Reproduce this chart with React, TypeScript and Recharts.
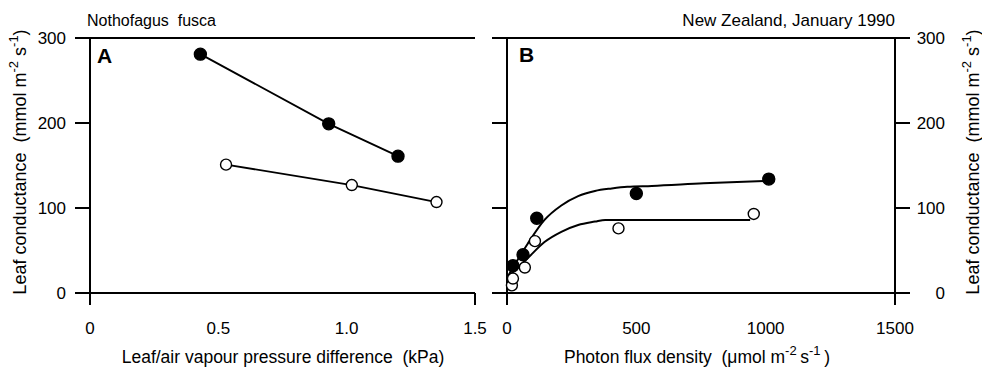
import React from 'react';
import { ComposedChart, Line, Scatter, XAxis, YAxis } from 'recharts';

// panel A: conductance vs leaf/air vapour pressure difference
const vpdFilled = [0.43, 0.93, 1.2];
const condVpdFilled = [281, 199, 161];
const vpdOpen = [0.53, 1.02, 1.35];
const condVpdOpen = [151, 127, 107];

// panel B: conductance vs photon flux density
const pfdFilled = [23, 62, 115, 500, 1012];
const condPfdFilled = [32, 45, 88, 117, 134];
const pfdOpen = [19, 23, 69, 108, 431, 954];
const condPfdOpen = [9, 17, 30, 61, 76, 93];

// fitted curves
const fitFilledX = [0, 80, 145, 210, 275, 340, 405, 465, 560, 760, 1020];
const fitFilledY = [18, 58, 86, 103, 114, 120, 123, 125, 126, 129, 132];
const fitOpenX = [0, 80, 145, 210, 275, 340, 380, 500, 700, 940];
const fitOpenY = [18, 41, 60, 72, 80, 84, 86, 86, 86, 86];

const condTicks = [0, 100, 200, 300];
const vpdTicks = [0, 0.5, 1.0, 1.5];
const vpdTickLabels = ['0', '0.5', '1.0', '1.5'];
const pfdTicks = [0, 500, 1000, 1500];
const pfdTickLabels = ['0', '500', '1000', '1500'];

const FONT = '"Liberation Sans", Arial, sans-serif';
const AX = { stroke: '#000', strokeWidth: 2 };
const TICK_FS = 17;

const zip = (xs: number[], ys: number[]) => xs.map((x, i) => ({ x, y: ys[i] }));

const BottomTick = (props: any) => {
  const { x, y, payload, ticks, labels, marked } = props;
  const i = ticks.indexOf(payload.value);
  return (
    <g>
      {marked.includes(payload.value) && (
        <line x1={x} x2={x} y1={y - 29} y2={y - 17} stroke="#000" strokeWidth={2} />
      )}
      <text x={x} y={y} dy="0.71em" textAnchor="middle" fontSize={TICK_FS} fontFamily={FONT} fill="#000">
        {labels[i]}
      </text>
    </g>
  );
};

const RightTick = (props: any) => (
  <text x={props.x + 30} y={props.y} dy="0.355em" textAnchor="end" fontSize={TICK_FS} fontFamily={FONT} fill="#000">
    {props.payload.value}
  </text>
);

const NoTick = () => <g />;

const Dot = ({ cx, cy, open }: any) =>
  cx == null ? null : (
    <circle cx={cx} cy={cy} r={open ? 5.5 : 6} fill={open ? '#fff' : '#000'} stroke="#000" strokeWidth={1.4} />
  );

const PanelA = () => (
  <ComposedChart width={500} height={367} margin={{ top: 38, right: 25, bottom: 44, left: 0 }}>
    <XAxis
      type="number"
      dataKey="x"
      domain={[0, 1.5]}
      ticks={vpdTicks}
      axisLine={AX}
      tickLine={false}
      tickSize={12}
      tickMargin={17}
      height={30}
      tick={<BottomTick ticks={vpdTicks} labels={vpdTickLabels} marked={[0, 1.5]} />}
    />
    <XAxis
      xAxisId="top"
      orientation="top"
      mirror
      type="number"
      dataKey="x"
      domain={[0, 1.5]}
      ticks={[0.5, 1.0]}
      axisLine={AX}
      tickLine={AX}
      tickSize={12}
      tick={<NoTick />}
    />
    <YAxis
      type="number"
      domain={[0, 300]}
      ticks={condTicks}
      width={90}
      axisLine={AX}
      tickLine={AX}
      tickSize={15}
      tickMargin={9}
      tick={{ fontSize: TICK_FS, fontFamily: FONT, fill: '#000' }}
    />
    <Line
      data={zip(vpdFilled, condVpdFilled)}
      dataKey="y"
      type="linear"
      stroke="#000"
      strokeWidth={1.8}
      dot={<Dot />}
      isAnimationActive={false}
    />
    <Line
      data={zip(vpdOpen, condVpdOpen)}
      dataKey="y"
      type="linear"
      stroke="#000"
      strokeWidth={1.8}
      dot={<Dot open />}
      isAnimationActive={false}
    />
  </ComposedChart>
);

const PanelB = () => (
  <ComposedChart width={492} height={367} margin={{ top: 38, right: 0, bottom: 44, left: 0 }}>
    <XAxis
      type="number"
      dataKey="x"
      domain={[0, 1500]}
      ticks={pfdTicks}
      axisLine={AX}
      tickLine={false}
      tickSize={12}
      tickMargin={17}
      height={30}
      tick={<BottomTick ticks={pfdTicks} labels={pfdTickLabels} marked={[0, 1500]} />}
    />
    <XAxis
      xAxisId="top"
      orientation="top"
      mirror
      type="number"
      dataKey="x"
      domain={[0, 1500]}
      ticks={[500, 1000]}
      axisLine={AX}
      tickLine={AX}
      tickSize={12}
      tick={<NoTick />}
    />
    <YAxis
      yAxisId="left"
      type="number"
      domain={[0, 300]}
      ticks={condTicks}
      width={17}
      axisLine={AX}
      tickLine={AX}
      tickSize={15}
      tick={<NoTick />}
    />
    <YAxis
      yAxisId="right"
      orientation="right"
      type="number"
      domain={[0, 300]}
      ticks={condTicks}
      width={87}
      axisLine={AX}
      tickLine={AX}
      tickSize={15}
      tickMargin={5}
      tick={<RightTick />}
    />
    <Line
      yAxisId="right"
      data={zip(fitFilledX, fitFilledY)}
      dataKey="y"
      type="monotone"
      stroke="#000"
      strokeWidth={2}
      dot={false}
      isAnimationActive={false}
    />
    <Line
      yAxisId="right"
      data={zip(fitOpenX, fitOpenY)}
      dataKey="y"
      type="monotone"
      stroke="#000"
      strokeWidth={2}
      dot={false}
      isAnimationActive={false}
    />
    <Scatter
      yAxisId="left"
      data={zip(pfdOpen, condPfdOpen)}
      dataKey="y"
      shape={(p: any) => <Dot cx={p.cx} cy={p.cy} open />}
      isAnimationActive={false}
    />
    <Scatter
      yAxisId="left"
      data={zip(pfdFilled, condPfdFilled)}
      dataKey="y"
      shape={(p: any) => <Dot cx={p.cx} cy={p.cy} />}
      isAnimationActive={false}
    />
  </ComposedChart>
);

const txt = { fontFamily: FONT, fill: '#000' };

const CondLabel = ({ x }: { x: number }) => (
  <text transform={`translate(${x},162) rotate(-90)`} fontSize={18} textAnchor="middle" {...txt} xmlSpace="preserve">
    Leaf conductance  (mmol m<tspan dy={-8} fontSize={13}>-2</tspan>
    <tspan dy={8}> s</tspan>
    <tspan dy={-8} fontSize={13}>-1</tspan>
    <tspan dy={8}>)</tspan>
  </text>
);

export default function App() {
  return (
    <div style={{ position: 'absolute', left: 0, top: 0, width: 982, height: 367, background: '#fff' }}>
      <div style={{ position: 'absolute', left: 0, top: 0 }}>
        <PanelA />
      </div>
      <div style={{ position: 'absolute', left: 490, top: 0 }}>
        <PanelB />
      </div>
      <svg width={982} height={367} style={{ position: 'absolute', left: 0, top: 0, pointerEvents: 'none' }}>
        <text x={87} y={26} fontSize={16} {...txt} xmlSpace="preserve">Nothofagus  fusca</text>
        <text x={895} y={26} fontSize={17} textAnchor="end" {...txt}>New Zealand, January 1990</text>
        <text x={97} y={63} fontSize={21} fontWeight="bold" {...txt}>A</text>
        <text x={519} y={62} fontSize={21} fontWeight="bold" {...txt}>B</text>
        <text x={283} y={363} fontSize={17.5} textAnchor="middle" {...txt} xmlSpace="preserve">
          Leaf/air vapour pressure difference  (kPa)
        </text>
        <text x={697} y={363} fontSize={17.5} textAnchor="middle" {...txt} xmlSpace="preserve">
          Photon flux density  (μmol m<tspan dy={-8} fontSize={13}>-2 </tspan>
          <tspan dy={8}>s</tspan>
          <tspan dy={-8} fontSize={13}>-1 </tspan>
          <tspan dy={8}>)</tspan>
        </text>
        <CondLabel x={26} />
        <CondLabel x={979} />
      </svg>
    </div>
  );
}
